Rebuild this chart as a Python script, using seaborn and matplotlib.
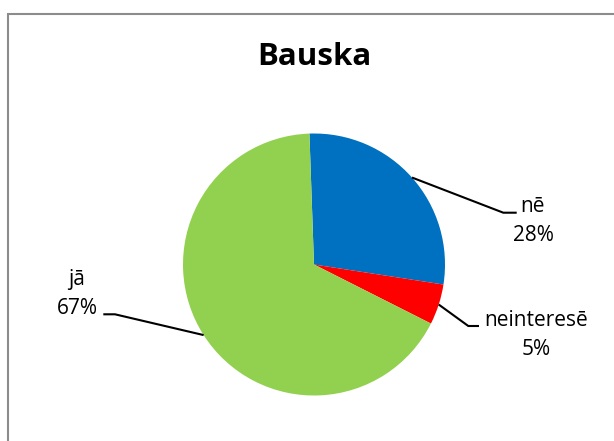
import numpy as np
import matplotlib
matplotlib.use("Agg")
import matplotlib.pyplot as plt
from matplotlib.patches import Rectangle
import seaborn as sns

# Survey answers for Bauska
categories = ["nē", "neinteresē", "jā"]
shares = [28, 5, 67]
colors = ["#0070C0", "#FF0000", "#92D050"]

sns.set_theme(style="white")
plt.rcParams["font.family"] = ["Open Sans", "DejaVu Sans"]

W, H = 614, 441
fig = plt.figure(figsize=(W / 100, H / 100), dpi=100)
ax = fig.add_axes([0, 0, 1, 1])


def py(y):
    """Convert a top-down pixel row to the axes' y coordinate."""
    return H - y


cx, cy, r = 314, py(264.5), 131
start = 92
wedges, _ = ax.pie(shares, colors=colors, startangle=start, counterclock=False,
                   center=(cx, cy), radius=r, frame=True,
                   wedgeprops=dict(linewidth=0))
ax.set_xlim(0, W)
ax.set_ylim(0, H)
ax.set_aspect("equal")
ax.axis("off")

# Chart frame
ax.add_patch(Rectangle((7.5, py(H + 20)), W + 20, H + 20 - 13.5, fill=False,
                       edgecolor="#8c8c8c", linewidth=1.5, clip_on=False))

ax.text(314, py(57), "Bauska", ha="center", va="center", fontsize=22.5,
        fontweight="bold", color="black")

# Label placement: text centre and leader elbow (pixel rows from the top)
label_pos = {
    "nē": dict(text=(533, 221), elbow=(503.3, 212.7), end=(516.7, 212.7)),
    "neinteresē": dict(text=(536, 335), elbow=(468.3, 326), end=(479, 326)),
    "jā": dict(text=(77, 294), elbow=(115, 314.3), end=(103.3, 314.3)),
}

for w, cat, val in zip(wedges, categories, shares):
    mid = np.deg2rad((w.theta1 + w.theta2) / 2)
    sx, sy = cx + r * np.cos(mid), cy + r * np.sin(mid)
    p = label_pos[cat]
    ex, ey = p["elbow"]
    fx, fy = p["end"]
    ax.plot([sx, ex, fx], [sy, py(ey), py(fy)], color="black", lw=1.5,
            solid_capstyle="butt", solid_joinstyle="miter")
    tx, ty = p["text"]
    ax.text(tx, py(ty), f"{cat}\n{val}%", ha="center", va="center",
            fontsize=15, color="black", linespacing=1.45)

fig.savefig("out.png", dpi=100, facecolor="white")
